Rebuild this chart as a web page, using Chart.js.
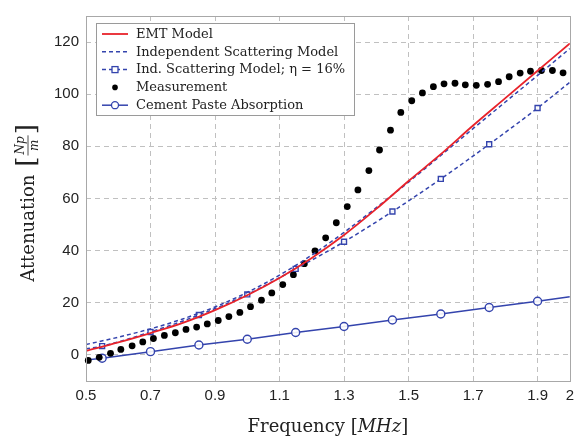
<!DOCTYPE html>
<html><head><meta charset="utf-8">
<script src="https://cdn.jsdelivr.net/npm/chart.js@4/dist/chart.umd.min.js"></script>
<style>html,body{margin:0;padding:0;background:#fff}canvas{display:block}</style>
</head><body>
<canvas id="c" width="580" height="438"></canvas>
<script>
// ---- data ----
const xTickValues = [0.5, 0.7, 0.9, 1.1, 1.3, 1.5, 1.7, 1.9, 2.0];
const yTickValues = [0, 20, 40, 60, 80, 100, 120];

const emtFreq = [0.5, 0.6, 0.7, 0.8, 0.9, 1.0, 1.1, 1.2, 1.3, 1.4, 1.5, 1.6, 1.7, 1.8, 1.9, 2.0];
const emtAtt  = [1.6, 4.8, 8.4, 12.3, 17.2, 22.9, 29.5, 37.2, 46.0, 56.0, 66.7, 77.0, 88.0, 98.5, 109.0, 119.5];

const indFreq = [0.5, 0.6, 0.7, 0.8, 0.9, 1.0, 1.1, 1.2, 1.3, 1.4, 1.5, 1.6, 1.7, 1.8, 1.9, 2.0];
const indAtt  = [4.0, 6.8, 10.0, 13.8, 18.4, 24.0, 30.6, 38.3, 47.0, 56.5, 66.3, 76.5, 86.8, 97.0, 107.2, 117.5];

const ind16Freq = [0.5, 0.55, 0.7, 0.85, 1.0, 1.15, 1.3, 1.45, 1.6, 1.75, 1.9, 2.0];
const ind16Att  = [2.3, 3.4, 8.8, 15.3, 23.2, 33.0, 43.4, 55.0, 67.5, 80.8, 94.7, 104.6];

const cementFreq = [0.5, 0.55, 0.7, 0.85, 1.0, 1.15, 1.3, 1.45, 1.6, 1.75, 1.9, 2.0];
const cementAtt  = [-1.9, -1.25, 1.25, 3.8, 6.0, 8.6, 10.9, 13.4, 15.7, 18.2, 20.6, 22.3];

const measFreq = [0.507, 0.541, 0.576, 0.608, 0.643, 0.676, 0.709, 0.743, 0.777, 0.810, 0.843, 0.876, 0.910, 0.943, 0.977,
                  1.010, 1.044, 1.076, 1.110, 1.143, 1.177, 1.210, 1.243, 1.276, 1.310, 1.343, 1.377, 1.410, 1.444, 1.476,
                  1.510, 1.543, 1.577, 1.610, 1.644, 1.676, 1.710, 1.745, 1.779, 1.812, 1.846, 1.878, 1.912, 1.946, 1.979];
const measAtt  = [-2.1, -0.9, 0.6, 2.1, 3.5, 5.0, 6.3, 7.5, 8.5, 9.8, 10.7, 11.9, 13.2, 14.7, 16.3,
                  18.5, 21.0, 23.8, 27.0, 30.8, 35.0, 39.9, 44.9, 50.7, 56.9, 63.3, 70.7, 78.6, 86.2, 93.0,
                  97.5, 100.5, 102.9, 104.0, 104.2, 103.6, 103.4, 103.8, 104.8, 106.7, 108.1, 108.8, 109.1, 109.1, 108.2];

const seriesLabels = ['EMT Model', 'Independent Scattering Model', 'Ind. Scattering Model; \u03b7 = 16%', 'Measurement', 'Cement Paste Absorption'];

// ---- styling ----
const RED = '#e8232b';
const BLUE = '#3444ad';
const pts = (xs, ys) => xs.map((x, i) => ({x: x, y: ys[i]}));
const innerMarker = r => ctx => (ctx.dataIndex === 0 || ctx.dataIndex === ctx.dataset.data.length - 1) ? 0 : r;

const datasets = [
  {label: seriesLabels[0], data: pts(emtFreq, emtAtt), showLine: true, borderColor: RED, borderWidth: 1.8,
   pointRadius: 0, cubicInterpolationMode: 'monotone', fill: false},
  {label: seriesLabels[1], data: pts(indFreq, indAtt), showLine: true, borderColor: BLUE, borderWidth: 1.5,
   borderDash: [4, 3], pointRadius: 0, cubicInterpolationMode: 'monotone', fill: false},
  {label: seriesLabels[2], data: pts(ind16Freq, ind16Att), showLine: true, borderColor: BLUE, borderWidth: 1.5,
   borderDash: [4, 3], pointStyle: 'rect', pointRadius: innerMarker(3.5), pointBorderColor: BLUE,
   pointBackgroundColor: 'rgba(255,255,255,0.9)', pointBorderWidth: 1.4, cubicInterpolationMode: 'monotone', fill: false},
  {label: seriesLabels[3], data: pts(measFreq, measAtt), showLine: false, pointStyle: 'circle', pointRadius: 3.4,
   pointBackgroundColor: '#000', pointBorderColor: '#000', pointBorderWidth: 0, clip: false},
  {label: seriesLabels[4], data: pts(cementFreq, cementAtt), showLine: true, borderColor: BLUE, borderWidth: 1.5,
   pointStyle: 'circle', pointRadius: innerMarker(4.0), pointBorderColor: BLUE, pointBackgroundColor: 'rgba(255,255,255,0.9)',
   pointBorderWidth: 1.4, tension: 0, fill: false}
];

const frameAndTitles = {
  id: 'frameAndTitles',
  afterDatasetsDraw(chart) {
    const {ctx, chartArea: a} = chart;
    ctx.save();
    ctx.strokeStyle = '#a8a8a8';
    ctx.lineWidth = 1;
    ctx.setLineDash([]);
    ctx.strokeRect(Math.round(a.left) + 0.5, Math.round(a.top) + 0.5, Math.round(a.right - a.left), Math.round(a.bottom - a.top));

    // legend box
    const bx = a.left + 10, by = a.top + 7, bw = 258, bh = 92;
    ctx.fillStyle = '#fff';
    ctx.fillRect(bx, by, bw, bh);
    ctx.strokeStyle = '#9a9a9a';
    ctx.strokeRect(Math.round(bx) + 0.5, Math.round(by) + 0.5, bw, bh);
    ctx.font = '13px "DejaVu Serif"';
    ctx.textBaseline = 'middle';
    ctx.textAlign = 'left';
    chart.data.datasets.forEach((ds, i) => {
      const cy = by + 11 + i * 17.8;
      const x0 = bx + 6, x1 = bx + 32, xm = (x0 + x1) / 2;
      if (ds.showLine) {
        ctx.strokeStyle = ds.borderColor;
        ctx.lineWidth = ds.borderWidth;
        ctx.setLineDash(ds.borderDash || []);
        ctx.beginPath(); ctx.moveTo(x0, cy); ctx.lineTo(x1, cy); ctx.stroke();
        ctx.setLineDash([]);
      }
      if (ds.pointStyle === 'rect' && ds.showLine) {
        ctx.fillStyle = '#fff'; ctx.strokeStyle = ds.pointBorderColor; ctx.lineWidth = 1.3;
        ctx.fillRect(xm - 3, cy - 3, 6, 6); ctx.strokeRect(xm - 3, cy - 3, 6, 6);
      } else if (ds.pointStyle === 'circle' && ds.showLine) {
        ctx.fillStyle = '#fff'; ctx.strokeStyle = ds.pointBorderColor; ctx.lineWidth = 1.3;
        ctx.beginPath(); ctx.arc(xm, cy, 3.5, 0, Math.PI * 2); ctx.fill(); ctx.stroke();
      } else if (!ds.showLine) {
        ctx.fillStyle = ds.pointBackgroundColor;
        ctx.beginPath(); ctx.arc(xm, cy, 2.8, 0, Math.PI * 2); ctx.fill();
      }
      ctx.fillStyle = '#222';
      ctx.fillText(ds.label, bx + 40, cy + 0.5);
    });

    // x title: Frequency [MHz]
    ctx.fillStyle = '#222';
    ctx.textBaseline = 'alphabetic';
    const fN = '18px "DejaVu Serif"', fI = 'italic 18px "DejaVu Serif"';
    const parts = [['Frequency ', fN], ['[', fN], ['MHz', fI], [']', fN]];
    let tw = 0; parts.forEach(p => { ctx.font = p[1]; tw += ctx.measureText(p[0]).width; });
    let xx = (a.left + a.right) / 2 - tw / 2;
    parts.forEach(p => { ctx.font = p[1]; ctx.fillText(p[0], xx, 432); xx += ctx.measureText(p[0]).width; });

    // y title: Attenuation [Np/m]
    ctx.save();
    ctx.translate(28, 203);
    ctx.rotate(-Math.PI / 2);
    ctx.textBaseline = 'middle';
    ctx.font = fN;
    const wA = ctx.measureText('Attenuation').width;
    const gap = 8;
    ctx.font = '26px "DejaVu Serif"';
    const wB = ctx.measureText('[').width;
    ctx.font = 'italic 12px "DejaVu Serif"';
    const wF = Math.max(ctx.measureText('Np').width, ctx.measureText('m').width) + 4;
    const W = wA + gap + wB + wF + wB;
    let u = -W / 2;
    ctx.font = fN; ctx.fillText('Attenuation', u, 1); u += wA + gap;
    ctx.font = '26px "DejaVu Serif"'; ctx.fillText('[', u, 0); u += wB;
    ctx.font = 'italic 12px "DejaVu Serif"'; ctx.textAlign = 'center';
    ctx.fillText('Np', u + wF / 2, -7);
    ctx.fillText('m', u + wF / 2, 7);
    ctx.strokeStyle = '#222'; ctx.lineWidth = 0.8;
    ctx.beginPath(); ctx.moveTo(u + 1, 0); ctx.lineTo(u + wF - 1, 0); ctx.stroke();
    u += wF;
    ctx.textAlign = 'left';
    ctx.font = '26px "DejaVu Serif"'; ctx.fillText(']', u, 0);
    ctx.restore();
    ctx.restore();
  }
};

const gridColor = '#c0c0c0';
new Chart(document.getElementById('c'), {
  type: 'scatter',
  data: {datasets: datasets},
  options: {
    responsive: false,
    animation: false,
    devicePixelRatio: 1,
    layout: {padding: {top: 11, right: 6, left: 0, bottom: 0}},
    plugins: {legend: {display: false}, tooltip: {enabled: false}},
    scales: {
      x: {
        type: 'linear', min: 0.5, max: 2.0,
        afterBuildTicks: s => { s.ticks = xTickValues.map(v => ({value: v})); },
        afterFit: s => { s.height = 57; },
        ticks: {padding: 6, color: '#222', font: {family: '"Liberation Sans", Arial', size: 15},
                callback: v => String(v), maxRotation: 0, autoSkip: false},
        grid: {drawTicks: false, color: ctx => (ctx.tick && (ctx.tick.value === 0.5 || ctx.tick.value === 2)) ? 'rgba(0,0,0,0)' : gridColor,
               lineWidth: 1},
        border: {display: false, dash: [5, 4]}
      },
      y: {
        type: 'linear', min: -10, max: 130,
        afterBuildTicks: s => { s.ticks = yTickValues.map(v => ({value: v})); },
        afterFit: s => { s.width = 86; },
        ticks: {padding: 7, color: '#222', font: {family: '"Liberation Sans", Arial', size: 15}},
        grid: {drawTicks: false, color: gridColor, lineWidth: 1},
        border: {display: false, dash: [5, 4]}
      }
    }
  },
  plugins: [frameAndTitles]
});
</script>
</body></html>
